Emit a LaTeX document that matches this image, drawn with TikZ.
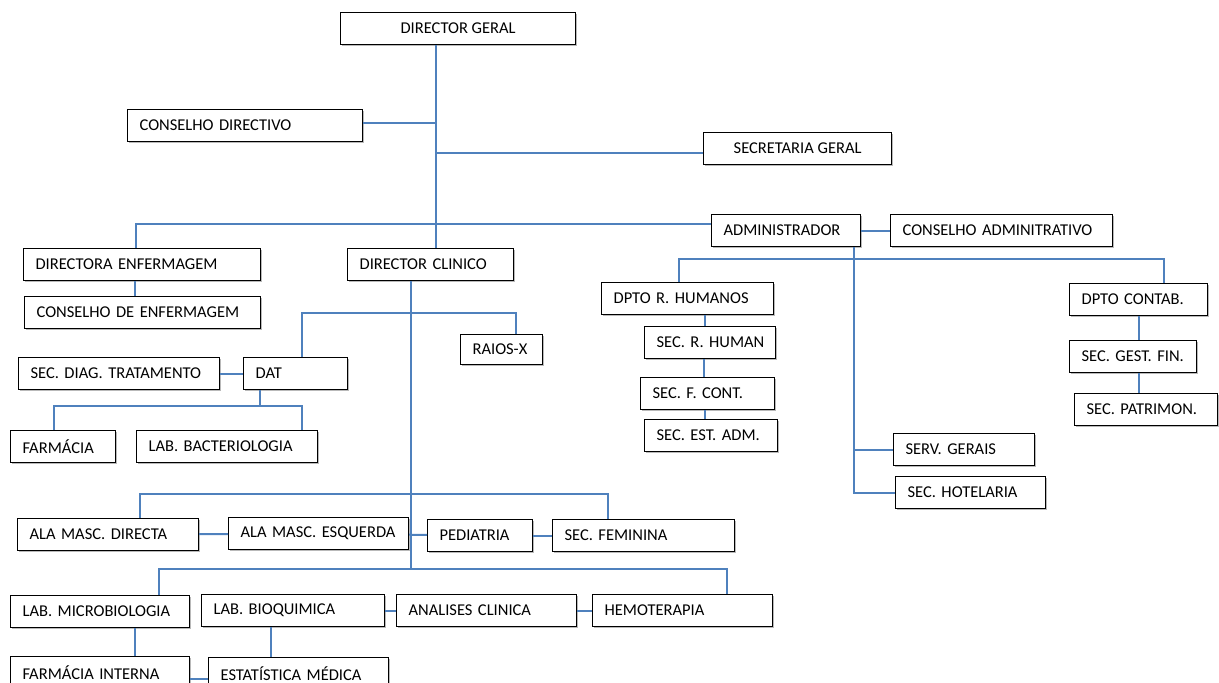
\documentclass[tikz,border=0pt]{standalone}
\usepackage{fontspec}
\setmainfont{Carlito}
\usetikzlibrary{shadows}
\frenchspacing
\definecolor{linkblue}{RGB}{79,129,189}
\tikzstyle{box}=[draw, line width=1.2pt, fill=white, anchor=north west, minimum height=32pt, inner xsep=12pt, inner ysep=2pt, align=left, font=\fontsize{16.5}{18}\selectfont, drop shadow={shadow xshift=1.2pt, shadow yshift=-1.2pt, opacity=0.55}]
\tikzstyle{link}=[linkblue, line width=2pt]

\begin{document}
\begin{tikzpicture}[x=1pt, y=-1pt]
            \useasboundingbox (0,0) rectangle (1219,683);
            \clip (0,0) rectangle (1219,683);
            % top
            \node [box, minimum width=235pt] (DG) at (340,12) {DIRECTOR GERAL};
            \node [box, text width=211pt] (CD) at (127,109) {CONSELHO DIRECTIVO};
            \node [box, minimum width=188pt] (SG) at (703,132) {SECRETARIA GERAL};
            \node [box, text width=213pt] (DE) at (23,248) {DIRECTORA ENFERMAGEM};
            \node [box, text width=142pt] (DC) at (347,248) {DIRECTOR CLINICO};
            \node [box, text width=212pt] (CE) at (24,296) {CONSELHO DE ENFERMAGEM};
            \node [box, text width=125pt] (AD) at (711,214) {ADMINISTRADOR};
            \node [box, text width=198pt] (CA) at (890,214) {\mbox{CONSELHO ADMINITRATIVO}};
            % clinico
            \node [box, text width=58pt, minimum height=30pt] (RX) at (460,334) {RAIOS-X};
            \node [box, text width=177pt] (SD) at (18,357) {\mbox{SEC. DIAG. TRATAMENTO}};
            \node [box, text width=80pt] (DAT) at (243,357) {DAT};
            \node [box, text width=81pt] (FA) at (10,430) {FARMÁCIA};
            \node [box, text width=157pt] (LB) at (136,430) {LAB. BACTERIOLOGIA};
            % administrador
            \node [box, text width=148pt] (RH) at (601,282) {DPTO R. HUMANOS};
            \node [box, text width=107pt] (SRH) at (644,326) {\mbox{SEC. R. HUMAN}};
            \node [box, text width=110pt] (SFC) at (640,377) {SEC. F. CONT.};
            \node [box, text width=109pt] (SEA) at (644,419) {\mbox{SEC. EST. ADM.}};
            \node [box, text width=114pt] (DCO) at (1069,283) {DPTO CONTAB.};
            \node [box, text width=103pt] (SGF) at (1069,340) {\mbox{SEC. GEST. FIN.}};
            \node [box, text width=119pt] (SP) at (1074,393) {\mbox{SEC. PATRIMON.}};
            \node [box, text width=117pt] (SVG) at (893,433) {SERV. GERAIS};
            \node [box, text width=126pt] (SH) at (895,476) {SEC. HOTELARIA};
            % alas
            \node [box, text width=157pt] (AMD) at (17,518) {ALA MASC. DIRECTA};
            \node [box, text width=156pt] (AME) at (228,517) {ALA MASC. ESQUERDA};
            \node [box, text width=81pt] (PE) at (427,519) {PEDIATRIA};
            \node [box, text width=158pt] (SF) at (552,519) {SEC. FEMININA};
            % laboratorios
            \node [box, text width=155pt] (LM) at (10,595) {LAB. MICROBIOLOGIA};
            \node [box, text width=159pt] (LBQ) at (201,594) {LAB. BIOQUIMICA};
            \node [box, text width=156pt] (AC) at (396,594) {ANALISES CLINICA};
            \node [box, text width=156pt] (HE) at (592,594) {HEMOTERAPIA};
            \node [box, text width=155pt] (FI) at (10,656) {FARMÁCIA INTERNA};
            \node [box, text width=156pt] (EM) at (208,657) {ESTATÍSTICA MÉDICA};
            % connectors
            \draw[link] ([xshift=96pt]DG.south west) -- ([xshift=89pt]DC.north west);
            \draw[link] ([yshift=3pt]CD.east) -| ([xshift=96pt]DG.south west);
            \draw[link] ([yshift=-4pt]SG.west) -| ([xshift=96pt]DG.south west);
            \draw[link] ([xshift=113pt]DE.north west) |- ([yshift=-10pt]AD.north west);
            \draw[link] ([xshift=112pt]DE.south west) -- ([xshift=111pt]CE.north west);
            \draw[link] ([xshift=64pt]DC.south west) |- ([yshift=25pt]HE.north west);
            \draw[link] ([xshift=59pt]DAT.north west) |- ([xshift=56pt,yshift=21pt]RX.north west) -- ([xshift=56pt]RX.north west);
            \draw[link] (SD) -- (DAT);
            \draw[link] ([xshift=17pt]DAT.south west) |- ([yshift=24pt]LB.north west);
            \draw[link] ([xshift=44pt]FA.north west) |- ([xshift=166pt,yshift=24pt]LB.north west) -- ([xshift=166pt]LB.north west);
            \draw[link] (AD) -- (CA);
            \draw[link] ([xshift=143pt]AD.south west) |- (SVG.west);
            \draw[link] ([xshift=143pt]AD.south west) |- (SH.west);
            \draw[link] ([xshift=78pt]RH.north west) |- ([xshift=95pt,yshift=24pt]DCO.north west) -- ([xshift=95pt]DCO.north west);
            \draw[link] ([xshift=104pt]RH.south west) -- ([xshift=61pt]SRH.north west);
            \draw[link] ([xshift=60pt]SRH.south west) -- ([xshift=64pt]SFC.north west);
            \draw[link] ([xshift=65pt]SFC.south west) -- ([xshift=61pt]SEA.north west);
            \draw[link] ([xshift=70pt]DCO.south west) -- ([xshift=70pt]SGF.north west);
            \draw[link] ([xshift=70pt]SGF.south west) -- ([xshift=65pt]SP.north west);
            \draw[link] ([xshift=123pt]AMD.north west) |- ([xshift=56pt,yshift=25pt]SF.north west) -- ([xshift=56pt]SF.north west);
            \path[link] (AMD) edge (AME) (AME) edge (PE) (PE) edge (SF);
            \draw[link] ([xshift=149pt]LM.north west) |- ([xshift=135pt,yshift=25pt]HE.north west) -- ([xshift=135pt]HE.north west);
            \path[link] (LBQ) edge (AC) (AC) edge (HE);
            \draw[link] ([xshift=125pt]LM.south west) -- ([xshift=125pt]FI.north west);
            \draw[link] ([xshift=70pt]LBQ.south west) -- ([xshift=63pt]EM.north west);
            \draw[link] ([yshift=-23pt]FI.north east) -- ([yshift=-22pt]EM.north west);
        \end{tikzpicture}
\end{document}
